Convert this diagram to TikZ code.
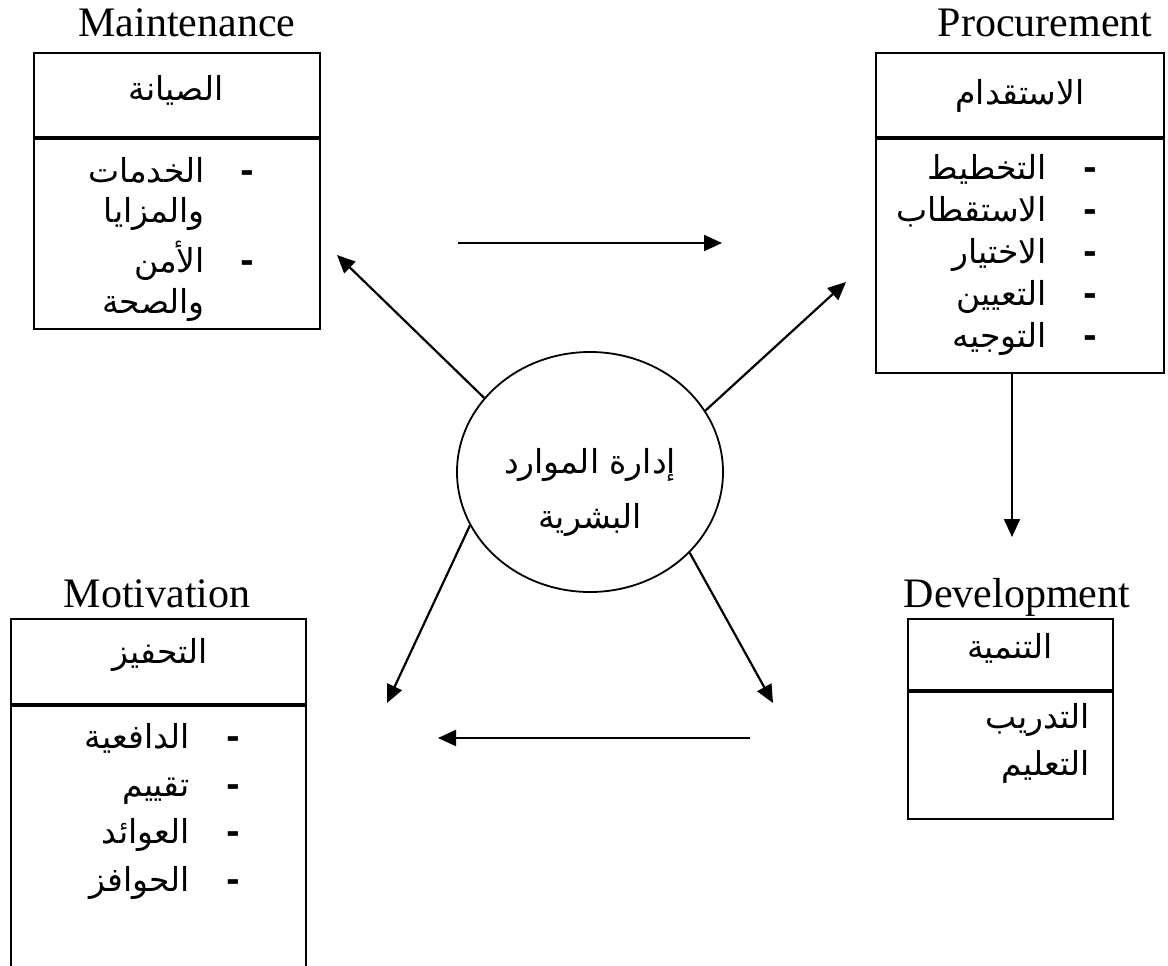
\documentclass[tikz,border=0pt]{standalone}
\usepackage{fontspec}
\setmainfont{Liberation Serif}
\newfontfamily\arabicfont[Script=Arabic]{DejaVu Sans}
\TeXXeTstate=1
\usetikzlibrary{shapes.geometric,arrows.meta}
\newcommand{\artext}[1]{\beginR #1\endR}
\tikzset{
  title/.style={font=\fontsize{42}{42}\selectfont, anchor=base, inner sep=0pt},
  ar/.style={font=\arabicfont\fontsize{33}{33}\selectfont, inner sep=0pt},
  bullet/.style={font=\arabicfont\bfseries\fontsize{33}{33}\selectfont, inner sep=0pt, anchor=base},
  part/.style={draw, line width=1.8pt, inner sep=0pt, anchor=north west},
  arr/.style={-{Triangle[length=18pt,width=16pt]}, line width=2.2pt}
}
\begin{document}
\begin{tikzpicture}[x=1pt, y=-1pt]
  \useasboundingbox (0,0) rectangle (1168,966);
  \node[title] (mtitle) at (187,37) {Maintenance};
  \node[part, minimum width=286pt, minimum height=84pt] (mh) at (33,52) {};
  \node[part, minimum width=286pt, minimum height=190pt] (mb) at (mh.south west) {};
  \node[ar, anchor=base] (mhead) at (176,100) {\artext{الصيانة}};
  \node[ar, anchor=base east] (m1) at (205,182) {\artext{الخدمات}};
  \node[ar, anchor=base east] (m2) at (205,222) {\artext{والمزايا}};
  \node[ar, anchor=base east] (m3) at (205,272) {\artext{الأمن}};
  \node[ar, anchor=base east] (m4) at (205,313) {\artext{والصحة}};
  \node[bullet] (md1) at (247,182) {-};
  \node[bullet] (md3) at (247,272) {-};

  \node[title] (ptitle) at (1045,37) {Procurement};
  \node[part, minimum width=288pt, minimum height=84pt] (ph) at (875,52) {};
  \node[part, minimum width=288pt, minimum height=234pt] (pb) at (ph.south west) {};
  \node[ar, anchor=base] (phead) at (1020,104) {\artext{الاستقدام}};
  \foreach \t [count=\i] in {التخطيط,الاستقطاب,الاختيار,التعيين,التوجيه} {
    \node[ar, anchor=base east] (p\i) at (1047,137+42*\i) {\artext{\t}};
    \node[bullet] (pd\i) at (1090,137+42*\i) {-};
  }

  \node[title] (motitle) at (157,607) {Motivation};
  \node[part, minimum width=295pt, minimum height=85pt] (moh) at (10,618) {};
  \node[part, minimum width=295pt, minimum height=280pt] (mob) at (moh.south west) {};
  \node[ar, anchor=base] (mohead) at (160,663) {\artext{التحفيز}};
  \foreach \t/\y [count=\i] in {الدافعية/748,تقييم/796,العوائد/843,الحوافز/891} {
    \node[ar, anchor=base east] (mo\i) at (190,\y) {\artext{\t}};
    \node[bullet] (mod\i) at (233,\y) {-};
  }

  \node[title] (dtitle) at (1017,607) {Development};
  \node[part, minimum width=205pt, minimum height=71pt] (dh) at (907,618) {};
  \node[part, minimum width=205pt, minimum height=127pt] (db) at (dh.south west) {};
  \node[ar, anchor=base] (dhead) at (1010,658) {\artext{التنمية}};
  \node[ar, anchor=base east] (d1) at (1090,728) {\artext{التدريب}};
  \node[ar, anchor=base east] (d2) at (1090,775) {\artext{التعليم}};

  \node[draw, ellipse, line width=1.8pt, minimum width=266pt, minimum height=240pt, inner sep=0pt] (hrm) at (590,472) {};
  \node[ar, anchor=base] (hrm1) at (590,473) {\artext{إدارة الموارد}};
  \node[ar, anchor=base] (hrm2) at (590,528) {\artext{البشرية}};

  \coordinate (tipM) at (337,255);
  \coordinate (tipP) at (846,282);
  \coordinate (tipMo) at (387,703);
  \coordinate (tipD) at (773,703);
  \coordinate (tipDn) at (1012,537);
  \coordinate (topA) at (458,243);
  \coordinate (topB) at (722,243);
  \coordinate (botA) at (750,738);
  \coordinate (botB) at (438,738);
  \draw[arr] (hrm.145.6) -- (tipM);
  \draw[arr] (hrm.28.3) -- (tipP);
  \draw[arr] (hrm.204.1) -- (tipMo);
  \draw[arr] (hrm.321.3) -- (tipD);
  \draw[arr] (tipDn |- pb.south) -- (tipDn);
  \draw[arr] (topA) -- (topB);
  \draw[arr] (botA) -- (botB);
\end{tikzpicture}
\end{document}
